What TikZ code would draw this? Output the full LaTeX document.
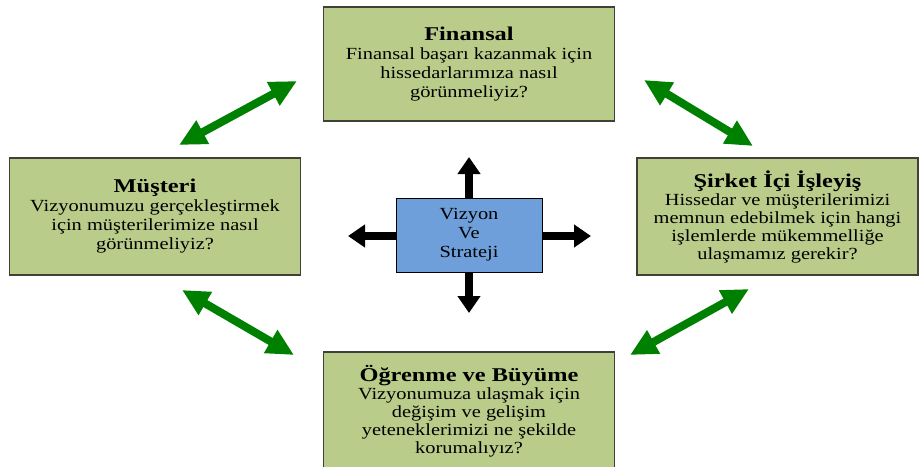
\documentclass[tikz,border=0pt]{standalone}
\usepackage{fontspec}
\setmainfont{Liberation Serif}
\newfontfamily\bodyfont[FakeStretch=1.2]{Liberation Serif}
\newfontfamily\headfont[FakeStretch=1.25]{Liberation Serif}
\usetikzlibrary{arrows.meta}
\definecolor{boxgreen}{RGB}{186,204,138}
\definecolor{boxedge}{RGB}{64,64,56}
\definecolor{coreblue}{RGB}{111,159,218}
\definecolor{linkgreen}{RGB}{0,128,0}
\tikzset{
  persp/.style={draw=boxedge, line width=1.3pt, fill=boxgreen, inner sep=0pt,
    align=center, font=\bodyfont\fontsize{17}{19}\selectfont},
  tight/.style={font=\bodyfont\fontsize{17}{18}\selectfont},
  core/.style={draw=black, line width=1pt, fill=coreblue, inner sep=0pt,
    align=center, font=\bodyfont\fontsize{17}{19}\selectfont,
    minimum width=146pt, minimum height=74pt},
  push/.style={line width=7.5pt, -{Triangle[width=22pt,length=17pt]}},
  link/.style={linkgreen, line width=8pt,
    {Triangle[width=25pt,length=27pt]}-{Triangle[width=25pt,length=27pt]}},
}
\newcommand{\head}[1]{{\headfont\bfseries\fontsize{19.5}{20}\selectfont #1}}
\begin{document}
\begin{tikzpicture}[x=1pt,y=-1pt]
  \useasboundingbox (0,0) rectangle (920,466);
  \begin{scope}
    \clip (0,0) rectangle (920,466);

    % four perspectives
    \node[persp, minimum width=291pt, minimum height=114pt] (fin) at (469,64)
      {\head{Finansal}\\Finansal başarı kazanmak için\\hissedarlarımıza nasıl\\görünmeliyiz?};
    \node[persp, minimum width=291pt, minimum height=117pt] (mus) at (155,216.5)
      {\head{Müşteri}\\Vizyonumuzu gerçekleştirmek\\için müşterilerimize nasıl\\görünmeliyiz?};
    \node[persp, tight, minimum width=281pt, minimum height=117pt] (sir) at (777.5,216.5)
      {\head{Şirket İçi İşleyiş}\\Hissedar ve müşterilerimizi\\memnun edebilmek için hangi\\işlemlerde mükemmelliğe\\ulaşmamız gerekir?};
    \node[persp, tight, minimum width=291pt, minimum height=118pt] (ogr) at (469,411)
      {\head{Öğrenme ve Büyüme}\\Vizyonumuza ulaşmak için\\değişim ve gelişim\\yeteneklerimizi ne şekilde\\korumalıyız?};

    % vision and strategy at the centre
    \node[core] (viz) at (469,235) {Vizyon\\Ve\\Strateji};

    % outward arrows from the centre
    \coordinate (upT) at (469,157);
    \coordinate (dnT) at (469,313);
    \coordinate (lfT) at (348,236);
    \coordinate (rtT) at (591,236);
    \draw[push] (viz.north) -- (upT);
    \draw[push] (viz.south) -- (dnT);
    \draw[push] (viz.west |- lfT) -- (lfT);
    \draw[push] (viz.east |- rtT) -- (rtT);

    % two-way links between neighbouring perspectives
    \coordinate (a1) at (179,145); \coordinate (a2) at (297,81);
    \coordinate (b1) at (644,80);  \coordinate (b2) at (753,146);
    \coordinate (c1) at (182,290); \coordinate (c2) at (294,355);
    \coordinate (d1) at (749,289); \coordinate (d2) at (630,355);
    \draw[link] (a1) -- (a2);
    \draw[link] (b1) -- (b2);
    \draw[link] (c1) -- (c2);
    \draw[link] (d1) -- (d2);
  \end{scope}
\end{tikzpicture}
\end{document}
